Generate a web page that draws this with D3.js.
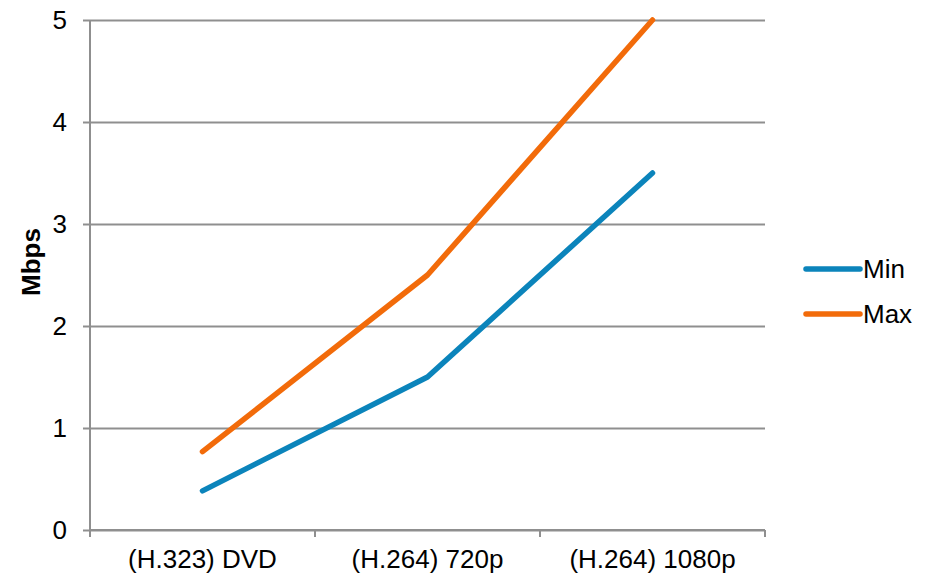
<!DOCTYPE html>
<html>
<head>
<meta charset="utf-8">
<script src="https://cdn.jsdelivr.net/npm/d3@7/dist/d3.min.js"></script>
<style>
  html, body { margin: 0; padding: 0; background: #fff; }
  svg { display: block; font-family: "Liberation Sans", Arial, sans-serif; }
</style>
</head>
<body>
<svg id="chart" width="926" height="576"></svg>
<script>
// Bitrate ranges per video format (Mbps)
const categories = ["(H.323) DVD", "(H.264) 720p", "(H.264) 1080p"];
const minValues = [0.384, 1.5, 3.5];
const maxValues = [0.768, 2.5, 5];
const seriesNames = ["Min", "Max"];
const seriesColors = ["#0b84bb", "#f26b0a"];
const yTicks = [0, 1, 2, 3, 4, 5];
const yTitle = "Mbps";

const series = [
  { name: seriesNames[0], color: seriesColors[0], values: minValues },
  { name: seriesNames[1], color: seriesColors[1], values: maxValues }
];

const svg = d3.select("#chart");
const plot = { left: 90, right: 765, top: 20, bottom: 530 };
const gridColor = "#8f8f8f";
const fontSize = 26;
const fontFamily = "'Liberation Sans', Arial, sans-serif";

const x = d3.scaleBand().domain(categories).range([plot.left, plot.right]);
const y = d3.scaleLinear().domain([0, 5]).range([plot.bottom, plot.top]);

// Horizontal gridlines with the y axis ticks on the left
const yAxis = d3.axisLeft(y).tickValues(yTicks).tickSize(-(plot.right - plot.left)).tickPadding(23).tickFormat(d3.format("d"));
const gy = svg.append("g").attr("transform", `translate(${plot.left},0)`).call(yAxis);
gy.select(".domain").remove();
gy.selectAll(".tick line").attr("stroke", gridColor).attr("stroke-width", 2).attr("x1", -7);
gy.selectAll(".tick text").attr("font-size", fontSize).attr("fill", "#000").attr("font-family", fontFamily);

// Vertical axis line
svg.append("line")
  .attr("x1", plot.left).attr("x2", plot.left)
  .attr("y1", plot.top).attr("y2", plot.bottom + 7)
  .attr("stroke", gridColor).attr("stroke-width", 2);

// Category axis with boundary ticks
const gx = svg.append("g").attr("transform", `translate(0,${plot.bottom})`);
gx.append("line")
  .attr("x1", plot.left).attr("x2", plot.right)
  .attr("stroke", gridColor).attr("stroke-width", 2);
const boundaries = categories.map(c => x(c)).concat([x(categories[categories.length - 1]) + x.bandwidth()]);
gx.selectAll("line.bt").data(boundaries).join("line")
  .attr("class", "bt")
  .attr("x1", d => d).attr("x2", d => d)
  .attr("y1", 0).attr("y2", 7)
  .attr("stroke", gridColor).attr("stroke-width", 2);
gx.selectAll("text").data(categories).join("text")
  .attr("x", d => x(d) + x.bandwidth() / 2)
  .attr("y", 38)
  .attr("text-anchor", "middle")
  .attr("font-size", fontSize)
  .attr("fill", "#000")
  .text(d => d);

// Y axis title
svg.append("text")
  .attr("transform", `translate(40,262) rotate(-90)`)
  .attr("text-anchor", "middle")
  .attr("font-size", fontSize)
  .attr("font-weight", "bold")
  .attr("fill", "#000")
  .text(yTitle);

// Series lines
const line = d3.line()
  .x((d, i) => x(categories[i]) + x.bandwidth() / 2)
  .y(d => y(d));

svg.selectAll("path.series").data(series).join("path")
  .attr("class", "series")
  .attr("d", d => line(d.values))
  .attr("fill", "none")
  .attr("stroke", d => d.color)
  .attr("stroke-width", 5.5)
  .attr("stroke-linecap", "round")
  .attr("stroke-linejoin", "round");

// Legend
const legend = svg.append("g");
const lg = legend.selectAll("g").data(series).join("g")
  .attr("transform", (d, i) => `translate(806,${269 + i * 45})`);
lg.append("line")
  .attr("x1", 0).attr("x2", 54)
  .attr("stroke", d => d.color)
  .attr("stroke-width", 5.5)
  .attr("stroke-linecap", "round");
lg.append("text")
  .attr("x", 57)
  .attr("y", 9)
  .attr("font-size", fontSize)
  .attr("fill", "#000")
  .text(d => d.name);
</script>
</body>
</html>
